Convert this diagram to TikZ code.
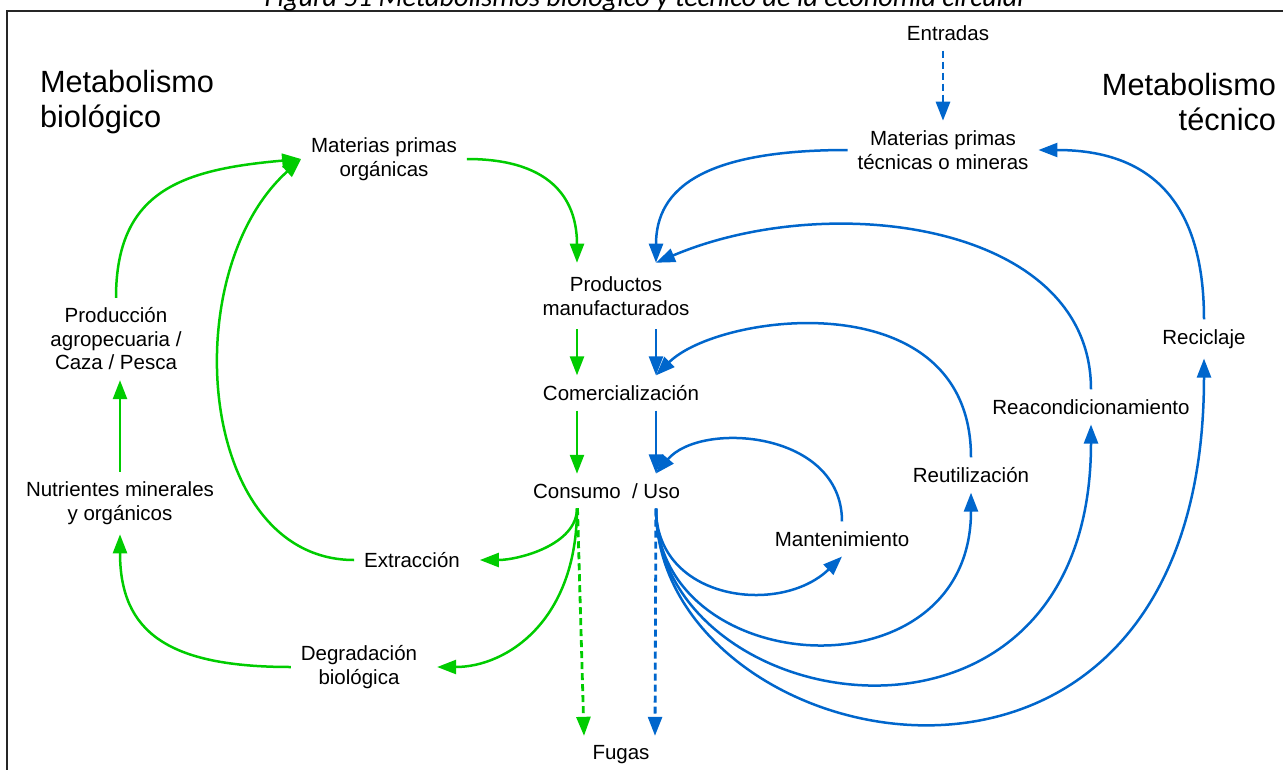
\documentclass[tikz,border=0pt]{standalone}
\usepackage{fontspec}
\setmainfont{Liberation Sans}
\newfontfamily\capfont{Carlito}
\usetikzlibrary{arrows.meta}
\definecolor{bioGreen}{RGB}{0,204,0}
\definecolor{tecBlue}{RGB}{0,102,204}
\newcommand\lblsize{\fontsize{20.5}{23.5}\selectfont}
\newcommand\headsize{\fontsize{30.7}{34.5}\selectfont}
\begin{document}
\begin{tikzpicture}[x=1pt, y=-1pt,
  lbl/.style={font=\lblsize, align=center, inner sep=0pt, outer sep=10pt},
  bio/.style={draw=bioGreen, line width=2.5pt, -{Triangle[length=19pt,width=14pt]}},
  tec/.style={draw=tecBlue, line width=2.5pt, -{Triangle[length=19pt,width=14pt]}},
  fuga/.style={line width=2.8pt, dash pattern=on 7pt off 4pt}]
\useasboundingbox (0,0) rectangle (1283,769);
% frame and caption
\draw[black!85, line width=1.6pt] (7,900) |- (1400,11);
\node[anchor=base, font=\capfont\itshape\fontsize{28.2}{32}\selectfont] (cap) at (646,6)
  {Figura 51 Metabolismos biológico y técnico de la economía circular};
\begin{scope}[every node/.style={lbl}]
\node[anchor=west, align=left, font=\headsize] (mbio) at (30,102) {Metabolismo\\biológico};
\node[anchor=east, align=right, font=\headsize] (mtec) at (1286,102) {Metabolismo\\técnico};
% biological cycle
\node (mpo) at (384,159) {Materias primas\\orgánicas};
\node (pro) at (116,339) {Producción\\agropecuaria /\\Caza / Pesca};
\node (nut) at (120,503) {Nutrientes minerales\\y orgánicos};
\node (ext) at (412,560) {Extracción};
\node (deg) at (359,667) {Degradación\\biológica};
% centre column
\node[outer sep=14pt] (prod) at (616,296) {Productos\\manufacturados};
\node (com) at (621,393) {Comercialización};
\node (cons) at (577,491) {Consumo};
\node (uso) at (656,491) {/ Uso};
\node (fug) at (621,755) {Fugas};
% technical cycle
\node (ent) at (948,33) {Entradas};
\node (mpt) at (943,150) {Materias primas\\técnicas o mineras};
\node (man) at (842,539) {Mantenimiento};
\node (reu) at (971,475) {Reutilización};
\node (rea) at (1091,407) {Reacondicionamiento};
\node (rec) at (1204,339) {Reciclaje};
\end{scope}
% green arrows
\path
  (mpo) edge[bio, out=0, in=90, out distance=90, in distance=58] (prod.north -| cons)
  (prod.south -| cons) edge[bio] (com.north -| cons)
  (com.south -| cons) edge[bio] (cons)
  (cons) edge[bio, shorten >=10pt, out=-90, in=0, out distance=37, in distance=48] (ext)
  (cons) edge[bio, shorten >=10pt, out=-90, in=0, out distance=112, in distance=80] (deg)
  (cons) edge[bio, fuga] ([xshift=-37pt]fug.north)
  (ext) edge[bio, out=180, in=222, out distance=157, in distance=170] (mpo.west)
  (pro) edge[bio, out=90, in=185, out distance=107, in distance=120] (mpo.west)
  (nut) edge[bio] (pro.south -| nut)
  (deg) edge[bio, out=180, in=-90, out distance=123, in distance=98] (nut)
  ;
% blue arrows
\path
  (ent.south -| mpt) edge[tec, fuga] (mpt)
  (mpt) edge[tec, out=180, in=90, out distance=143, in distance=75] (prod.north -| uso)
  (rec) edge[tec, out=90, in=0, out distance=120, in distance=110] (mpt)
  (rea) edge[tec, out=90, in=23, out distance=167, in distance=188] (prod.north -| uso)
  (prod.south -| uso) edge[tec] (com.north -| uso)
  (reu) edge[tec, out=90, in=45, out distance=177, in distance=89] (com.north -| uso)
  (com.south -| uso) edge[tec] (uso)
  (man) edge[tec, out=90, in=50, out distance=91, in distance=69] (uso.north)
  (uso) edge[tec, out=-90, in=224, out distance=92, in distance=86] (man.south)
  (uso) edge[tec, out=-90, in=-90, out distance=172, in distance=208] (reu)
  (uso) edge[tec, out=-90, in=-90, out distance=212, in distance=366] (rea)
  (uso) edge[tec, out=-90, in=-90, out distance=252, in distance=520] (rec)
  (uso) edge[tec, fuga] ([xshift=34pt]fug.north)
  ;
\end{tikzpicture}
\end{document}
